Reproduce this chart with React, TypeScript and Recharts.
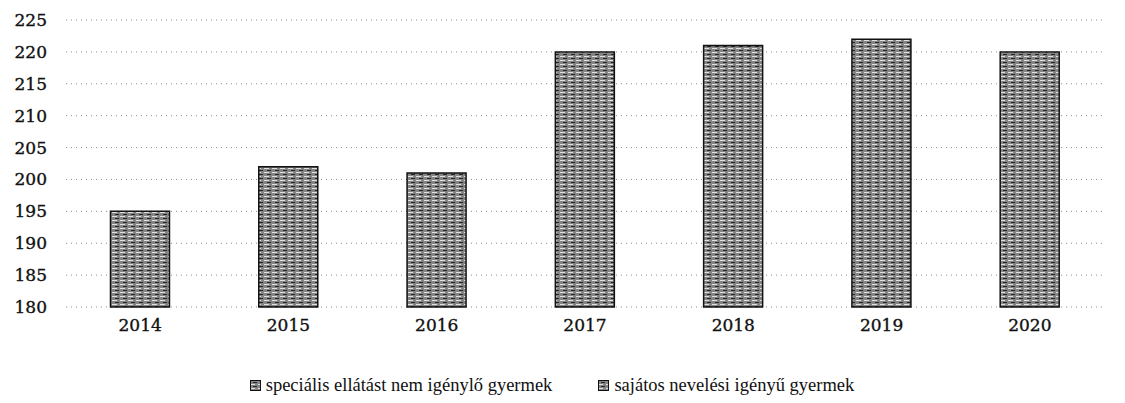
import { BarChart, Bar, XAxis, YAxis, CartesianGrid, Legend } from 'recharts'

const years = ['2014', '2015', '2016', '2017', '2018', '2019', '2020']
const children = [195, 202, 201, 220, 221, 222, 220]
const yTicks = [180, 185, 190, 195, 200, 205, 210, 215, 220, 225]
const legendNames = ['speciális ellátást nem igénylő gyermek', 'sajátos nevelési igényű gyermek']

const chartData = years.map((y, i) => ({ year: y, value: children[i] }))

const tickFont = '"DejaVu Serif", "Liberation Serif", serif'
const legendFont = '"Liberation Serif", "DejaVu Serif", serif'

function LegendContent() {
  return (
    <div
      style={{
        display: 'flex',
        justifyContent: 'center',
        gap: 46,
        paddingTop: 22,
        paddingLeft: 0,
        fontFamily: legendFont,
        fontSize: 18.5,
        color: '#111',
      }}
    >
      {legendNames.map((n) => (
        <span key={n} style={{ display: 'inline-flex', alignItems: 'center', gap: 5 }}>
          <svg width={11} height={11}>
            <rect x={0.5} y={0.5} width={10} height={10} fill="url(#barTex)" stroke="#111" strokeWidth={1} />
          </svg>
          {n}
        </span>
      ))}
    </div>
  )
}

export default function App() {
  return (
    <div style={{ position: 'absolute', left: 0, top: 0, background: '#fff' }}>
      <svg width={0} height={0} style={{ position: 'absolute' }}>
        <defs>
          <pattern id="barTex" width={8} height={4} patternUnits="userSpaceOnUse">
            <rect width={8} height={4} fill="#858585" />
            <rect x={0} y={0} width={5} height={1} fill="#e0e0e0" />
            <rect x={3} y={2} width={4} height={1} fill="#262626" />
          </pattern>
        </defs>
      </svg>
      <BarChart
        width={1125}
        height={403}
        data={chartData}
        margin={{ top: 20, right: 21, bottom: 6, left: 0 }}
        barCategoryGap="30%"
      >
        <CartesianGrid vertical={false} stroke="#8a8a8a" strokeDasharray="1 4" />
        <XAxis
          dataKey="year"
          axisLine={false}
          tickLine={false}
          tickMargin={6}
          height={46}
          tick={{ fontSize: 17, fill: '#111', fontFamily: tickFont, stroke: '#111', strokeWidth: 0.35 }}
        />
        <YAxis
          domain={[180, 225]}
          ticks={yTicks}
          interval={0}
          width={66}
          axisLine={false}
          tickLine={false}
          tickMargin={13}
          tick={{ fontSize: 17, fill: '#111', fontFamily: tickFont, stroke: '#111', strokeWidth: 0.35 }}
        />
        <Legend verticalAlign="bottom" height={44} content={<LegendContent />} />
        <Bar dataKey="value" fill="url(#barTex)" stroke="#111" strokeWidth={1.5} isAnimationActive={false} />
      </BarChart>
    </div>
  )
}
